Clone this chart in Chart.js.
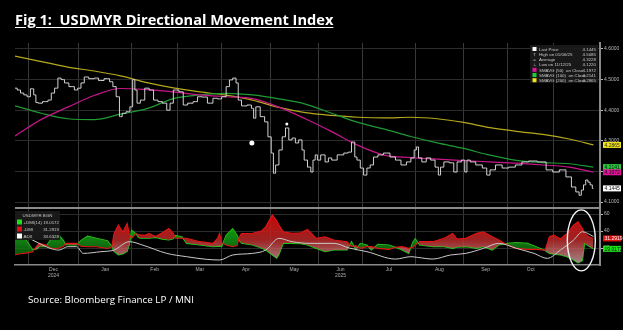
<!DOCTYPE html>
<html>
<head>
<meta charset="utf-8">
<script src="https://cdn.jsdelivr.net/npm/chart.js@4"></script>
<style>
  html, body { margin: 0; padding: 0; background: #000; }
  #wrap { position: relative; width: 623px; height: 330px; overflow: hidden; background: #000; }
  canvas { position: absolute; left: 0; top: 0; }
  #title { position: absolute; left: 15px; top: 11px; color: #fff; font: bold 14.6px "Open Sans"; line-height: 16px;
           text-decoration: underline; text-underline-offset: 2px; white-space: pre; }
  #source { position: absolute; left: 28px; top: 294px; color: #fff; font: 9.8px "Open Sans"; line-height: 12px; }
</style>
</head>
<body>
<div id="wrap">
  <canvas id="upper" width="623" height="330"></canvas>
  <canvas id="lower" width="623" height="330"></canvas>
  <div id="title">Fig 1:  USDMYR Directional Movement Index</div>
  <div id="source">Source: Bloomberg Finance LP / MNI</div>
</div>
<script>
// x values are trading days counted from the first bar (late Nov 2024)
const monthStarts = [6, 29, 53, 74, 94, 116, 138, 158, 182, 204, 224, 245];
const monthMids   = [17.5, 41, 63.5, 84, 105, 127, 148, 170, 193, 214, 234.5];
const monthLabels = [['Dec', '2024'], 'Jan', 'Feb', 'Mar', 'Apr', 'May', ['Jun', '2025'], 'Jul', 'Aug', 'Sep', 'Oct'];

const priceTicks = [4.1, 4.2, 4.3, 4.4, 4.5, 4.6];
const dmiTicks = [20, 40, 60];

// USDMYR close
const priceDays = [
  0, 2, 3, 5, 6, 8, 9, 10, 11, 14,
  16, 17, 19, 20, 22, 23, 26, 28, 29, 31,
  32, 35, 37, 39, 42, 44, 45, 47, 48, 49.5,
  51.5, 53, 54, 55, 56, 58, 60, 62, 64, 66,
  68, 70, 71, 73, 76, 77, 80, 82, 84, 86,
  89, 91, 93, 95, 97, 98, 100, 101, 102, 104,
  107, 108, 109, 110, 113, 114, 116, 117, 118, 119,
  121, 122, 124, 125, 127, 128, 130, 131, 132, 134,
  135, 136, 137, 138, 140, 142, 143, 145, 148, 151,
  152, 154, 155, 156, 158, 159, 161, 162, 164, 166,
  169, 172, 174, 177, 179, 181, 182, 183, 184, 186,
  188, 190, 192, 193, 194, 196, 199, 200, 202, 204,
  205, 206, 208, 211, 214, 215, 217, 220, 223, 226,
  229, 232, 235, 240, 243, 246, 249, 252, 254, 256,
  257, 258, 259, 260, 261, 262, 263
];
const priceClose = [
  4.472, 4.466, 4.456, 4.450, 4.444, 4.470, 4.450, 4.425, 4.423, 4.428,
  4.433, 4.456, 4.472, 4.505, 4.500, 4.489, 4.477, 4.466, 4.472, 4.489,
  4.5085, 4.503, 4.505, 4.497, 4.503, 4.493, 4.477, 4.444, 4.379, 4.390,
  4.395, 4.411, 4.500, 4.466, 4.423, 4.433, 4.472, 4.466, 4.433, 4.428,
  4.423, 4.400, 4.423, 4.466, 4.460, 4.417, 4.423, 4.428, 4.444, 4.443,
  4.423, 4.439, 4.437, 4.444, 4.477, 4.499, 4.505, 4.489, 4.433, 4.414,
  4.417, 4.406, 4.374, 4.411, 4.379, 4.362, 4.313, 4.260, 4.194, 4.221,
  4.270, 4.313, 4.342, 4.303, 4.309, 4.293, 4.303, 4.270, 4.237, 4.214,
  4.198, 4.237, 4.254, 4.237, 4.254, 4.231, 4.244, 4.237, 4.254, 4.260,
  4.263, 4.296, 4.247, 4.237, 4.211, 4.188, 4.211, 4.221, 4.247, 4.254,
  4.260, 4.247, 4.237, 4.221, 4.231, 4.244, 4.270, 4.280, 4.244, 4.231,
  4.244, 4.237, 4.214, 4.188, 4.214, 4.231, 4.228, 4.198, 4.231, 4.237,
  4.198, 4.237, 4.231, 4.221, 4.211, 4.188, 4.205, 4.221, 4.211, 4.214,
  4.221, 4.231, 4.234, 4.231, 4.205, 4.198, 4.205, 4.182, 4.149, 4.133,
  4.122, 4.139, 4.156, 4.172, 4.165, 4.156, 4.1445
];

// simple moving averages on close
const maDays = [0, 12, 24, 36, 48, 60, 72, 84, 96, 108, 120, 132, 144, 156, 168, 180, 192, 204, 216, 228, 240, 252, 263];
const sma50  = [4.316, 4.370, 4.410, 4.448, 4.471, 4.467, 4.460, 4.450, 4.444, 4.438, 4.410, 4.372,
                4.330, 4.285, 4.253, 4.245, 4.240, 4.235, 4.231, 4.227, 4.221, 4.214, 4.1972];
const sma100 = [4.414, 4.390, 4.372, 4.369, 4.387, 4.405, 4.438, 4.450, 4.455, 4.450, 4.437, 4.420,
                4.390, 4.360, 4.338, 4.314, 4.293, 4.275, 4.253, 4.236, 4.229, 4.225, 4.2141];
const sma200 = [4.577, 4.559, 4.541, 4.528, 4.512, 4.490, 4.473, 4.460, 4.449, 4.433, 4.409, 4.392,
                4.383, 4.377, 4.375, 4.377, 4.372, 4.360, 4.343, 4.331, 4.321, 4.306, 4.2865];

// event dots on the price panel
const markerDays = [107.7, 123.6];
const markerValues = [4.293, 4.355];
const markerSizes = [2.5, 1.5];

const priceHigh = 4.5085, priceAvg = 4.3228, priceLow = 4.1220;

// directional movement, 14 periods
const dmiDays = [
  0, 3, 5, 8, 10, 11, 14, 16, 18, 20,
  22, 23, 26, 28, 30, 33, 37, 42, 44, 45,
  47, 49, 51, 52, 53, 55, 56, 57, 59, 61,
  64, 67, 70, 72, 73, 76, 78, 84, 90, 92,
  93, 94, 96, 99, 101, 102, 103, 108, 112, 114,
  117, 119, 120, 122, 126, 130, 133, 137, 141, 145,
  151, 153, 155, 157, 160, 162, 165, 170, 173, 176,
  179, 181, 182, 184, 190, 195, 199, 201, 205, 210,
  213, 217, 220, 224, 228, 233, 237, 241, 243, 245,
  248, 251, 254, 256, 258, 259, 261, 263
];
const plusDmi = [
  35, 33, 29.5, 18, 19, 21.5, 21.5, 29, 33, 35,
  29, 24, 23.5, 23.5, 29, 34, 31.5, 28.5, 22, 16,
  12, 13, 16, 24, 41, 37, 33, 31.5, 31.5, 31.5,
  32.5, 30.5, 29.5, 31, 35, 33, 25.5, 23.5, 21.5, 22,
  22, 22, 35, 43, 35, 29, 25.5, 23.5, 20, 17.6,
  11.8, 8, 12, 25.5, 25.5, 25, 23.5, 19.6, 15.7, 17.6,
  17.6, 27.5, 18, 25.5, 23.5, 17.6, 24.5, 23.5, 21, 17.6,
  13.7, 27.5, 31, 23.5, 21.6, 21.6, 19.6, 21, 21.6, 19.6,
  21.6, 17.6, 23.5, 25.5, 26.5, 25.5, 21.6, 17, 13.7, 12.8,
  11.8, 9.8, 5.9, 2.5, 5, 25.5, 22, 19.0172
];
const minusDmi = [
  12, 13.5, 14, 15.5, 23, 25.5, 23.5, 20, 19.5, 20,
  22, 25.5, 25.5, 25.5, 22, 21.5, 21.5, 19.5, 21.5, 37,
  47, 39, 49, 36, 31.5, 37, 36, 35.5, 35, 37,
  33.5, 38, 43, 37, 31.5, 31.5, 31.5, 27.5, 25.5, 31,
  37, 26, 23.5, 21.5, 23, 33, 37, 37.5, 40, 45,
  58.8, 52, 47, 39, 37.5, 38, 42, 31.4, 33.3, 29.4,
  27.5, 21.6, 23, 19.6, 21.6, 21.6, 19.6, 18.4, 21, 21.6,
  19.6, 21, 23.5, 27.5, 27.5, 31.4, 37.3, 30.6, 31.4, 37.3,
  39.2, 33.3, 29.4, 23.5, 19.6, 18.4, 18.4, 17.5, 33.3, 35.3,
  30.6, 37.3, 47, 51, 43, 37.3, 33, 31.2919
];
const adxDays = [0, 8, 16, 20, 24, 28, 31, 39, 45, 52, 58, 69, 78, 87, 93, 99, 108, 114, 120, 126,
                 134, 145, 152, 160, 173, 180, 183, 190, 198, 205, 213, 220, 228, 236, 242, 248, 254, 258, 263];
const adx = [38.8, 29.4, 19.6, 17.6, 21.6, 21.6, 13.7, 15.7, 17.6, 27.5, 23.5, 13.7, 9.8, 6.7, 5.9, 11.8, 13.7, 17.6, 31.4, 27.5,
             25.5, 25.5, 20, 15.7, 7, 9.8, 9, 7, 11.8, 13.7, 19.6, 25.5, 19.6, 13.7, 7.8, 17.6, 29.4, 39.2, 33.6328];

const DAY_MIN = 0, DAY_MAX = 266;

const last = arr => arr[arr.length - 1];
const pts = (xs, ys) => xs.map((x, i) => ({ x: x, y: ys[i] }));
const fmt4 = v => v.toFixed(4);

Chart.defaults.font.family = '"Liberation Sans", Arial, sans-serif';
Chart.defaults.color = '#b8b8b8';

const GRID_H = '#2c2c2c';
const GRID_V = '#383838';
const AXIS = '#8a8a8a';
const TINY = '5px "Liberation Sans"';
const LEGEND_FONT = '4.4px "Liberation Sans"';

function drawTag(ctx, x, y, text, bg, fg) {
  ctx.save();
  ctx.font = TINY;
  ctx.fillStyle = bg;
  ctx.fillRect(x, y - 3, 18, 6);
  ctx.fillStyle = fg;
  ctx.textAlign = 'left';
  ctx.textBaseline = 'middle';
  ctx.fillText(text, x + 1.5, y + 0.5);
  ctx.restore();
}

function drawKey(ctx, x, y, mark, color) {
  if (mark === 'box') {
    ctx.fillStyle = color;
    ctx.fillRect(x, y - 2, 4, 4);
  } else {
    ctx.fillStyle = '#c8c8c8';
    ctx.textAlign = 'center';
    ctx.fillText(mark, x + 2, y + 0.5);
  }
}

function monthGrid(scale) {
  scale.ticks = monthStarts.map(v => ({ value: v }));
}

// ---------- price panel ----------
const upperRows = [
  { mark: 'box', color: '#ffffff', label: 'Last Price', value: last(priceClose) },
  { mark: 'T', label: 'High on 01/06/25', value: priceHigh },
  { mark: '=', label: 'Average', value: priceAvg },
  { mark: '\u22A5', label: 'Low on 11/12/25', value: priceLow },
  { mark: 'box', color: '#e0139a', label: 'SMAVG (50)  on Close', value: last(sma50) },
  { mark: 'box', color: '#25c93c', label: 'SMAVG (100)  on Close', value: last(sma100) },
  { mark: 'box', color: '#f2e21a', label: 'SMAVG (200)  on Close', value: last(sma200) }
];

const upperDecor = {
  id: 'upperDecor',
  afterDraw(chart) {
    const { ctx, chartArea: a, scales } = chart;
    const y = scales.y;
    ctx.save();
    // legend box
    const bx = a.right - 70, by = a.top + 2, bw = 68, bh = 38;
    ctx.fillStyle = 'rgba(26,26,26,0.92)';
    ctx.fillRect(bx, by, bw, bh);
    ctx.font = LEGEND_FONT;
    ctx.textBaseline = 'middle';
    upperRows.forEach((r, i) => {
      const ry = by + 4 + i * 5.2;
      drawKey(ctx, bx + 2.5, ry, r.mark, r.color);
      ctx.fillStyle = '#c8c8c8';
      ctx.textAlign = 'left';
      ctx.fillText(r.label, bx + 9, ry + 0.5);
      ctx.textAlign = 'right';
      ctx.fillText(fmt4(r.value), bx + bw - 2, ry + 0.5);
    });
    ctx.restore();
    // last-value tags on the axis
    const tx = a.right + 3;
    drawTag(ctx, tx, y.getPixelForValue(last(sma200)), fmt4(last(sma200)), '#f2e21a', '#222');
    drawTag(ctx, tx, y.getPixelForValue(last(sma100)), fmt4(last(sma100)), '#25c93c', '#111');
    drawTag(ctx, tx, y.getPixelForValue(last(sma50)), fmt4(last(sma50)), '#e0139a', '#111');
    drawTag(ctx, tx, y.getPixelForValue(last(priceClose)), fmt4(last(priceClose)), '#ffffff', '#111');
  }
};

new Chart(document.getElementById('upper'), {
  type: 'line',
  data: {
    datasets: [
      {
        label: 'Marks',
        data: pts(markerDays, markerValues),
        showLine: false,
        pointRadius: markerSizes,
        pointBackgroundColor: '#ffffff',
        pointBorderWidth: 0
      },
      {
        label: 'Last Price',
        data: pts(priceDays, priceClose),
        borderColor: '#d2d2d2',
        borderWidth: 1,
        pointRadius: 0,
        stepped: 'middle'
      },
      {
        label: 'SMAVG (50)',
        data: pts(maDays, sma50),
        borderColor: '#c8168a',
        borderWidth: 1.2,
        pointRadius: 0,
        cubicInterpolationMode: 'monotone'
      },
      {
        label: 'SMAVG (100)',
        data: pts(maDays, sma100),
        borderColor: '#1f9a34',
        borderWidth: 1.2,
        pointRadius: 0,
        cubicInterpolationMode: 'monotone'
      },
      {
        label: 'SMAVG (200)',
        data: pts(maDays, sma200),
        borderColor: '#b5a81c',
        borderWidth: 1.2,
        pointRadius: 0,
        cubicInterpolationMode: 'monotone'
      }
    ]
  },
  options: {
    responsive: false,
    animation: false,
    events: [],
    devicePixelRatio: 1,
    layout: { padding: { left: 15, top: 43, right: 0, bottom: 123 } },
    plugins: { legend: { display: false }, tooltip: { enabled: false } },
    scales: {
      x: {
        type: 'linear', min: DAY_MIN, max: DAY_MAX,
        afterBuildTicks: monthGrid,
        afterFit: s => { s.height = 0; },
        ticks: { display: false },
        grid: { color: GRID_V, drawTicks: false },
        border: { display: false }
      },
      y: {
        position: 'right',
        min: 4.0837, max: 4.6196,
        afterBuildTicks: s => { s.ticks = priceTicks.map(v => ({ value: v })); },
        afterFit: s => { s.width = 23; },
        ticks: { font: { size: 5 }, color: '#b8b8b8', padding: 1, callback: v => fmt4(v) },
        grid: { color: GRID_H, tickColor: '#bbbbbb', tickLength: 3 },
        border: { display: true, color: AXIS, width: 2 }
      }
    }
  },
  plugins: [upperDecor]
});

// ---------- DMI panel ----------
const lowerRows = [
  { color: '#19e019', label: '+DMI(14)', value: last(plusDmi) },
  { color: '#e01010', label: '-DMI', value: last(minusDmi) },
  { color: '#ffffff', label: 'ADX', value: last(adx) }
];

const lowerDecor = {
  id: 'lowerDecor',
  beforeDraw(chart) {
    const { ctx, chartArea: a } = chart;
    ctx.save();
    ctx.strokeStyle = AXIS;
    ctx.lineWidth = 2;
    ctx.beginPath();
    ctx.moveTo(a.left, a.top - 1);
    ctx.lineTo(a.right, a.top - 1);
    ctx.stroke();
    ctx.restore();
  },
  afterDraw(chart) {
    const { ctx, chartArea: a, scales } = chart;
    const y = scales.y, x = scales.x;
    ctx.save();
    const bx = a.left, by = a.top + 2, bw = 45, bh = 29;
    ctx.fillStyle = 'rgba(26,26,26,0.92)';
    ctx.fillRect(bx, by, bw, bh);
    ctx.font = LEGEND_FONT;
    ctx.textBaseline = 'middle';
    ctx.fillStyle = '#c8c8c8';
    ctx.textAlign = 'center';
    ctx.fillText('USDMYR BGN', bx + bw / 2, by + 4.5);
    lowerRows.forEach((r, i) => {
      const ry = by + 11 + i * 7;
      ctx.fillStyle = r.color;
      ctx.fillRect(bx + 2, ry - 2.5, 5, 5);
      ctx.fillStyle = '#c8c8c8';
      ctx.textAlign = 'left';
      ctx.fillText(r.label, bx + 8.5, ry + 0.5);
      ctx.textAlign = 'right';
      ctx.fillText(fmt4(r.value), bx + bw - 1, ry + 0.5);
    });
    // circled move into the latest -DMI spike
    ctx.strokeStyle = '#f4f4f4';
    ctx.lineWidth = 1.4;
    ctx.beginPath();
    ctx.ellipse(x.getPixelForValue(257.5), y.getPixelForValue(29), 14, 30.5, 0, 0, Math.PI * 2);
    ctx.stroke();
    ctx.restore();
    const tx = a.right + 3;
    drawTag(ctx, tx, y.getPixelForValue(last(minusDmi)), last(minusDmi).toFixed(4), '#e01010', '#f4f4f4');
    drawTag(ctx, tx, y.getPixelForValue(last(plusDmi)), last(plusDmi).toFixed(4), '#19e019', '#111');
  }
};

const lowerChart = new Chart(document.getElementById('lower'), {
  type: 'line',
  data: {
    datasets: [
      {
        label: 'ADX',
        data: pts(adxDays, adx),
        borderColor: '#c9c9c9',
        borderWidth: 1,
        pointRadius: 0,
        cubicInterpolationMode: 'monotone'
      },
      {
        label: '-DMI',
        data: pts(dmiDays, minusDmi),
        borderColor: '#e21313',
        borderWidth: 1.1,
        pointRadius: 0,
        fill: { target: 2, above: 'rgba(200,0,0,0.8)', below: 'rgba(0,170,0,0.8)' }
      },
      {
        label: '+DMI(14)',
        data: pts(dmiDays, plusDmi),
        borderColor: '#16d816',
        borderWidth: 1.1,
        pointRadius: 0
      }
    ]
  },
  options: {
    responsive: false,
    animation: false,
    events: [],
    devicePixelRatio: 1,
    layout: { padding: { left: 15, top: 209, right: 0, bottom: 51 } },
    plugins: { legend: { display: false }, tooltip: { enabled: false } },
    scales: {
      x: {
        type: 'linear', min: DAY_MIN, max: DAY_MAX,
        afterBuildTicks: monthGrid,
        afterFit: s => { s.height = 0; },
        ticks: { display: false },
        grid: { color: GRID_V, drawTicks: false },
        border: { display: true, color: AXIS, width: 1.5 }
      },
      x2: {
        type: 'linear', position: 'bottom', min: DAY_MIN, max: DAY_MAX,
        afterBuildTicks: s => { s.ticks = monthMids.map(v => ({ value: v })); },
        afterFit: s => { s.height = 14; },
        ticks: {
          autoSkip: false, maxRotation: 0, padding: 1,
          font: { size: 5, lineHeight: 1.3 }, color: '#b0b0b0',
          callback: (v, i) => monthLabels[i]
        },
        grid: { display: false, drawTicks: false },
        border: { display: false }
      },
      y: {
        position: 'right',
        min: 0, max: 66,
        afterBuildTicks: s => { s.ticks = dmiTicks.map(v => ({ value: v })); },
        afterFit: s => { s.width = 23; },
        ticks: { font: { size: 5 }, color: '#b8b8b8', padding: 1, callback: v => String(v) },
        grid: { color: GRID_H, tickColor: '#bbbbbb', tickLength: 3 },
        border: { display: true, color: AXIS, width: 2 }
      }
    }
  },
  plugins: [lowerDecor]
});

// shade the -DMI / +DMI gap with vertical gradients once the panel is laid out
(function () {
  const a = lowerChart.chartArea;
  const ctx = lowerChart.ctx;
  const red = ctx.createLinearGradient(0, a.top, 0, a.bottom);
  red.addColorStop(0, 'rgba(220,0,0,0.95)');
  red.addColorStop(0.55, 'rgba(185,40,40,0.85)');
  red.addColorStop(1, 'rgba(215,185,185,0.75)');
  const green = ctx.createLinearGradient(0, a.top, 0, a.bottom);
  green.addColorStop(0, 'rgba(0,215,0,0.95)');
  green.addColorStop(0.6, 'rgba(20,140,20,0.85)');
  green.addColorStop(1, 'rgba(0,70,0,0.8)');
  lowerChart.data.datasets[1].fill = { target: 2, above: red, below: green };
  lowerChart.update('none');
})();
</script>
</body>
</html>
